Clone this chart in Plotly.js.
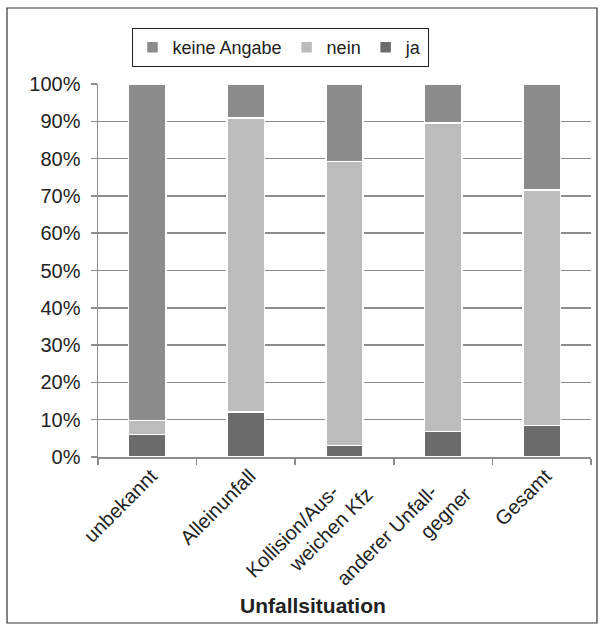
<!DOCTYPE html>
<html>
<head>
<meta charset="utf-8">
<script src="https://cdn.plot.ly/plotly-3.0.1.min.js"></script>
<style>
  body { margin: 0; background: #fff; }
  #chart { width: 603px; height: 632px; }
</style>
</head>
<body>
<div id="chart"></div>
<script>
// Anteile in Prozent je Unfallsituation
const pad = '\u00a0\u00a0\u00a0\u00a0'
const situations = ['unbekannt', 'Alleinunfall', 'Kollision/Aus-' + pad + '<br>weichen Kfz', 'anderer Unfall-' + pad + '<br>gegner', 'Gesamt']
const ja = [6.1, 12.0, 3.1, 6.9, 8.5]
const nein = [3.7, 78.9, 76.1, 82.6, 63.1]
const keineAngabe = [90.2, 9.1, 20.8, 10.5, 28.4]

const W = 603, H = 632
const M = {l: 98, r: 12, t: 84, b: 175}
const plotW = W - M.l - M.r
const plotH = H - M.t - M.b

// pixel -> paper coordinates
const px = x => (x - M.l) / plotW
const py = y => (H - M.b - y) / plotH

const font = 'Liberation Sans, Arial, sans-serif'

function barTrace(name, values, color){
    return {
        type: 'bar',
        name: name,
        x: situations,
        y: values,
        marker: {color: color, line: {color: '#ffffff', width: 1.5}},
        hoverinfo: 'none'
    }
}

const data = [
    barTrace('ja', ja, '#6b6b6b'),
    barTrace('nein', nein, '#bcbcbc'),
    barTrace('keine Angabe', keineAngabe, '#8c8c8c')
]

const layout = {
    width: W,
    height: H,
    margin: M,
    paper_bgcolor: '#ffffff',
    plot_bgcolor: '#ffffff',
    barmode: 'stack',
    bargap: 0.62,
    font: {family: font, size: 18, color: '#222'},
    showlegend: true,
    legend: {
        orientation: 'h',
        traceorder: 'reversed',
        x: px(280), xanchor: 'center',
        y: py(28), yanchor: 'top',
        bordercolor: '#222', borderwidth: 1,
        font: {family: font, size: 18, color: '#222'},
        itemwidth: 30
    },
    xaxis: {
        type: 'category',
        range: [-0.5, situations.length - 0.5],
        tickangle: -45,
        tickson: 'boundaries',
        ticks: 'outside', ticklen: 6, tickcolor: '#8c8c8c', tickwidth: 1.5,
        ticklabelstandoff: -2,
        ticklabelshift: 4,
        showline: true, linecolor: '#8c8c8c', linewidth: 1.5,
        showgrid: false,
        tickfont: {family: font, size: 20, color: '#222'}
    },
    yaxis: {
        range: [0, 100],
        dtick: 10,
        ticksuffix: '%',
        ticks: 'outside', ticklen: 6, tickcolor: '#8c8c8c', tickwidth: 1.5,
        ticklabelstandoff: 6,
        showline: true, linecolor: '#8c8c8c', linewidth: 1.5,
        showgrid: true, gridcolor: '#8c8c8c', gridwidth: 1.5,
        zeroline: false,
        tickfont: {family: font, size: 20, color: '#222'}
    },
    annotations: [{
        text: '<b>Unfallsituation</b>',
        xref: 'paper', yref: 'paper',
        x: px(313), y: py(605),
        xanchor: 'center', yanchor: 'middle',
        showarrow: false,
        font: {family: font, size: 21, color: '#222'}
    }],
    shapes: [{
        type: 'rect', xref: 'paper', yref: 'paper',
        x0: px(7), x1: px(597), y0: py(623), y1: py(8),
        line: {color: '#333', width: 1.2}
    }]
}

Plotly.newPlot('chart', data, layout, {displayModeBar: false, staticPlot: true})
</script>
</body>
</html>
